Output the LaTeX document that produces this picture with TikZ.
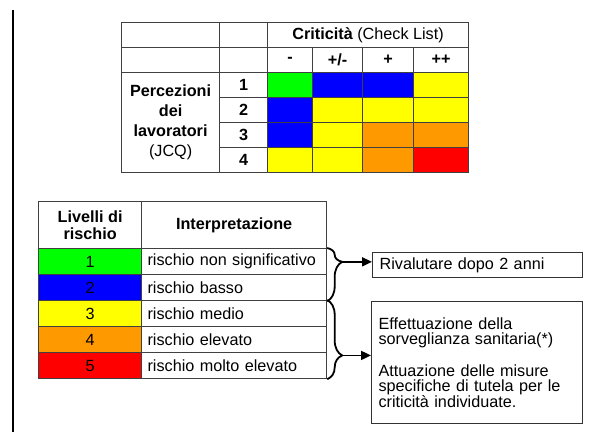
\documentclass[tikz,border=0pt]{standalone}
\usepackage{fontspec}
\setmainfont{Liberation Sans}
\usepackage{tikz}
\usetikzlibrary{positioning,calc,arrows.meta,decorations.pathreplacing}
\definecolor{lgreen}{RGB}{0,255,0}
\definecolor{lblue}{RGB}{0,0,255}
\definecolor{lyellow}{RGB}{255,255,0}
\definecolor{lorange}{RGB}{255,153,0}
\definecolor{lred}{RGB}{255,0,0}
\tikzset{
  cell/.style={draw=black!75,line width=1.2pt,anchor=north west,inner sep=0pt,minimum height=25pt,font=\fontsize{16.2}{17}\selectfont},
  lcell/.style={cell,minimum height=26pt},
  tcell/.style={lcell,align=left,text width=173pt,inner xsep=6pt},
  note/.style={draw=black!80,line width=1.2pt,anchor=north west,align=left,inner xsep=7pt,inner ysep=0pt,font=\fontsize{16.2}{15.6}\selectfont},
  brc/.style={decorate,line width=1.8pt},
  arr/.style={line width=1.8pt,-{Triangle[length=10pt,width=9pt]}}
}
\begin{document}
\begin{tikzpicture}[x=1pt,y=-1pt]
		\useasboundingbox (0,0) rectangle (596,437);
		\draw[line width=2pt] (13,10) -- (13,432);
		\node[cell,minimum width=98pt] (h1) at (121,22) {};
		\node[cell,minimum width=48pt] (h2) at (219,22) {};
		\node[cell,minimum width=201pt] (crit) at (267,22) {\textbf{Criticità} (Check List)};
		\node[cell,minimum width=98pt] (s1) at (121,47) {};
		\node[cell,minimum width=48pt] (s2) at (219,47) {};
		\node[cell,minimum width=45pt] (m1) at (267,47) {\textbf{-}};
		\node[cell,minimum width=50pt] (m2) at (312,47) {\textbf{+/-}};
		\node[cell,minimum width=51pt] (m3) at (362,47) {\textbf{+}};
		\node[cell,minimum width=55pt] (m4) at (413,47) {\textbf{++}};
		\node[cell,minimum width=98pt,minimum height=100pt,align=center,font=\fontsize{16.2}{20}\selectfont] (perc) at (121,72) {\textbf{Percezioni}\\\textbf{dei}\\\textbf{lavoratori}\\(JCQ)};
		\node[cell,minimum width=48pt] (p1) at (219,72) {\textbf{1}};
		\node[cell,minimum width=48pt] (p2) at (219,97) {\textbf{2}};
		\node[cell,minimum width=48pt] (p3) at (219,122) {\textbf{3}};
		\node[cell,minimum width=48pt] (p4) at (219,147) {\textbf{4}};
		\node[cell,minimum width=45pt,fill=lgreen] (g11) at (267,72) {};
		\node[cell,minimum width=50pt,fill=lblue] (g12) at (312,72) {};
		\node[cell,minimum width=51pt,fill=lblue] (g13) at (362,72) {};
		\node[cell,minimum width=55pt,fill=lyellow] (g14) at (413,72) {};
		\node[cell,minimum width=45pt,fill=lblue] (g21) at (267,97) {};
		\node[cell,minimum width=50pt,fill=lyellow] (g22) at (312,97) {};
		\node[cell,minimum width=51pt,fill=lyellow] (g23) at (362,97) {};
		\node[cell,minimum width=55pt,fill=lyellow] (g24) at (413,97) {};
		\node[cell,minimum width=45pt,fill=lblue] (g31) at (267,122) {};
		\node[cell,minimum width=50pt,fill=lyellow] (g32) at (312,122) {};
		\node[cell,minimum width=51pt,fill=lorange] (g33) at (362,122) {};
		\node[cell,minimum width=55pt,fill=lorange] (g34) at (413,122) {};
		\node[cell,minimum width=45pt,fill=lyellow] (g41) at (267,147) {};
		\node[cell,minimum width=50pt,fill=lyellow] (g42) at (312,147) {};
		\node[cell,minimum width=51pt,fill=lorange] (g43) at (362,147) {};
		\node[cell,minimum width=55pt,fill=lred] (g44) at (413,147) {};
		\node[cell,minimum width=103pt,minimum height=47pt,align=center,font=\fontsize{16.2}{16.7}\selectfont] (liv) at (38,201) {\textbf{Livelli di}\\\textbf{rischio}};
		\node[cell,minimum width=185pt,minimum height=47pt] (intp) at (141,201) {\textbf{Interpretazione}};
		\node[lcell,minimum width=103pt,fill=lgreen] (l1) at (38,248) {1};
		\node[lcell,minimum width=103pt,fill=lblue] (l2) at (38,274) {2};
		\node[lcell,minimum width=103pt,fill=lyellow] (l3) at (38,300) {3};
		\node[lcell,minimum width=103pt,fill=lorange] (l4) at (38,326) {4};
		\node[lcell,minimum width=103pt,fill=lred] (l5) at (38,352) {5};
		\node[tcell] (i1) at (141,248) {rischio non significativo};
		\node[tcell] (i2) at (141,274) {rischio basso};
		\node[tcell] (i3) at (141,300) {rischio medio};
		\node[tcell] (i4) at (141,326) {rischio elevato};
		\node[tcell] (i5) at (141,352) {rischio molto elevato};
		\node[note,text width=196pt,minimum height=25pt] (r1) at (372,252) {Rivalutare dopo 2 anni};
		\node[note,text width=197pt,minimum height=122pt] (r2) at (371,301) {Effettuazione della\\sorveglianza sanitaria(*)\\[15.6pt]Attuazione delle misure\\specifiche di tutela per le\\criticità individuate.};
		\draw[brc,decoration={brace,amplitude=15pt,aspect=0.26}] (i1.north east) -- (i2.south east);
		\draw[brc,decoration={brace,amplitude=15pt,aspect=0.7}] (i3.north east) -- (i5.south east);
		\coordinate (t1) at ($(i1.north east)!0.26!(i2.south east)+(15,0)$);
		\coordinate (t2) at ($(i3.north east)!0.7!(i5.south east)+(15,0)$);
		\draw[arr] (t1) -- (t1 -| r1.west);
		\draw[arr] (t2) -- (t2 -| r2.west);
	\end{tikzpicture}
\end{document}
